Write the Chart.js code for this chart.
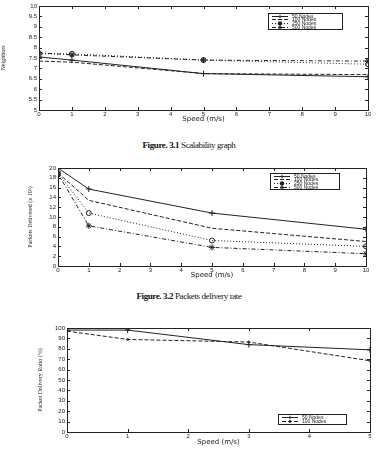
<!DOCTYPE html>
<html>
<head>
<meta charset="utf-8">
<title>Speed charts</title>
<script src="https://cdn.jsdelivr.net/npm/chart.js@4.4.0/dist/chart.umd.min.js"></script>
<style>
    body { margin: 0; width: 378px; height: 453px; background: #fff; position: relative; overflow: hidden; }
    .box { position: absolute; left: 0; width: 378px; }
    .caption { position: absolute; left: 0; width: 378px; text-align: center;
               font-family: 'Liberation Serif', serif; font-size: 9px; color: #111; letter-spacing: -0.4px; }
</style>
</head>
<body>
<div class="box" style="top:0;height:123px"><canvas id="chart1"></canvas></div>
<div class="caption" style="top:140px"><b>Figure. 3.1</b> Scalability graph</div>
<div class="box" style="top:160px;height:119px"><canvas id="chart2"></canvas></div>
<div class="caption" style="top:291px"><b>Figure. 3.2</b> Packets delivery rate</div>
<div class="box" style="top:320px;height:126px"><canvas id="chart3"></canvas></div>

<script>
// Figure 3.1 - neighbors vs speed
const speeds = [0, 1, 5, 10];
const neighborLabels = ['50 Nodes', '100 Nodes', '250 Nodes', '500 Nodes'];
const neighbors50 = [7.55, 7.4, 6.75, 6.6];
const neighbors100 = [7.35, 7.3, 6.75, 6.7];
const neighbors250 = [7.7, 7.7, 7.4, 7.2];
const neighbors500 = [7.75, 7.65, 7.4, 7.35];

// Figure 3.2 - packets delivered (x 10^3) vs speed
const delivered50 = [20, 15.7, 10.8, 7.5];
const delivered100 = [19, 13.4, 7.7, 5];
const delivered250 = [19, 10.8, 5.2, 4];
const delivered500 = [18.8, 8.2, 3.8, 2.5];

// third graph - packet delivery ratio (%)
const ratioSpeeds = [0, 1, 3, 5];
const ratioLabels = ['50 Nodes', '100 Nodes'];
const ratio50 = [98, 98, 84, 79];
const ratio100 = [97, 89, 86.5, 68.5];

const INK = '#222';
const axisFont = { family: 'Liberation Sans', size: 6, lineHeight: 1 };
const titleFont = { family: 'DejaVu Sans', size: 7, lineHeight: 1 };

const styles = [
    { borderDash: [], pointStyle: 'cross', pointRadius: 3 },
    { borderDash: [4, 2], pointStyle: 'circle', pointRadius: 0 },
    { borderDash: [1, 2], pointStyle: 'circle', pointRadius: 2.5 },
    { borderDash: [4, 2, 1, 2], pointStyle: 'star', pointRadius: 3 }
];

function toPoints(xs, ys) {
    return xs.map((x, i) => ({ x: x, y: ys[i] }));
}

function makeDataset(label, xs, ys, style) {
    return {
        label: label,
        data: toPoints(xs, ys),
        borderColor: INK,
        borderWidth: 1,
        borderDash: style.borderDash,
        pointStyle: style.pointStyle,
        pointRadius: style.pointRadius,
        pointBorderColor: INK,
        pointBorderWidth: 1,
        pointBackgroundColor: 'rgba(0,0,0,0)',
        fill: false,
        tension: 0
    };
}

// box around the plot with inward ticks on all four sides
const boxPlugin = {
    id: 'matlabBox',
    afterDatasetsDraw(chart) {
        const { ctx, chartArea: a, scales } = chart;
        const len = 3;
        ctx.save();
        ctx.strokeStyle = INK;
        ctx.lineWidth = 1;
        ctx.setLineDash([]);
        ctx.strokeRect(Math.round(a.left) + 0.5, Math.round(a.top) + 0.5,
            Math.round(a.right - a.left), Math.round(a.bottom - a.top));
        ctx.beginPath();
        scales.x.ticks.forEach(t => {
            const px = Math.round(scales.x.getPixelForValue(t.value)) + 0.5;
            ctx.moveTo(px, a.bottom); ctx.lineTo(px, a.bottom - len);
            ctx.moveTo(px, a.top); ctx.lineTo(px, a.top + len);
        });
        scales.y.ticks.forEach(t => {
            const py = Math.round(scales.y.getPixelForValue(t.value)) + 0.5;
            ctx.moveTo(a.left, py); ctx.lineTo(a.left + len, py);
            ctx.moveTo(a.right, py); ctx.lineTo(a.right - len, py);
        });
        ctx.stroke();
        ctx.restore();
    }
};

// small boxed legend in MATLAB style
const boxLegend = {
    id: 'boxLegend',
    afterDraw(chart, args, opts) {
        const { ctx, chartArea: a } = chart;
        const sets = chart.data.datasets;
        const w = opts.width, rowH = opts.rowHeight;
        const h = rowH * sets.length + 2;
        const x = a.right - opts.right - w;
        const y = opts.top != null ? a.top + opts.top : a.bottom - opts.bottom - h;
        ctx.save();
        ctx.fillStyle = '#fff';
        ctx.fillRect(x, y, w, h);
        ctx.strokeStyle = INK;
        ctx.lineWidth = 1;
        ctx.strokeRect(Math.round(x) + 0.5, Math.round(y) + 0.5, Math.round(w), Math.round(h));
        ctx.font = '5px "Liberation Sans"';
        ctx.textBaseline = 'middle';
        ctx.fillStyle = INK;
        sets.forEach((ds, i) => {
            const cy = Math.round(y + 1 + rowH * (i + 0.5)) + 0.5;
            ctx.setLineDash(ds.borderDash || []);
            ctx.beginPath();
            ctx.moveTo(x + 4, cy);
            ctx.lineTo(x + 20, cy);
            ctx.stroke();
            ctx.setLineDash([]);
            if (ds.pointRadius > 0) {
                Chart.helpers.drawPoint(ctx, {
                    pointStyle: ds.pointStyle, radius: Math.min(ds.pointRadius, 1.8),
                    borderWidth: 1, rotation: 0
                }, x + 12, cy);
            }
            ctx.fillText(ds.label, x + 24, cy);
        });
        ctx.restore();
    }
};

function makeChart(id, cfg) {
    return new Chart(document.getElementById(id), {
        type: 'line',
        data: { datasets: cfg.datasets },
        options: {
            responsive: true,
            maintainAspectRatio: false,
            animation: false,
            layout: { padding: cfg.padding },
            plugins: {
                legend: { display: false },
                tooltip: { enabled: false },
                boxLegend: cfg.legend
            },
            scales: {
                x: {
                    type: 'linear',
                    min: cfg.xMin, max: cfg.xMax,
                    ticks: { stepSize: 1, font: axisFont, color: INK, padding: 1, maxRotation: 0, autoSkip: false },
                    grid: { display: false, drawTicks: false },
                    border: { display: false },
                    title: { display: true, text: 'Speed (m/s)', font: titleFont, color: INK, padding: { top: 0, bottom: 0 } },
                    afterFit: s => { s.height = cfg.xHeight; }
                },
                y: {
                    min: cfg.yMin, max: cfg.yMax,
                    ticks: {
                        stepSize: cfg.yStep, font: axisFont, color: INK, padding: 2, autoSkip: false,
                        callback: v => String(Math.round(v * 10) / 10)
                    },
                    grid: { display: false, drawTicks: false },
                    border: { display: false },
                    title: { display: true, text: cfg.yTitle, font: { family: 'Liberation Sans Narrow', size: 6 }, color: INK, padding: 0 },
                    afterFit: s => { s.width = cfg.yWidth; }
                }
            }
        },
        plugins: [boxPlugin, boxLegend]
    });
}

makeChart('chart1', {
    datasets: [
        makeDataset(neighborLabels[0], speeds, neighbors50, styles[0]),
        makeDataset(neighborLabels[1], speeds, neighbors100, styles[1]),
        makeDataset(neighborLabels[2], speeds, neighbors250, styles[2]),
        makeDataset(neighborLabels[3], speeds, neighbors500, styles[3])
    ],
    padding: { top: 6, right: 10, left: 0, bottom: 0 },
    xMin: 0, xMax: 10, yMin: 5, yMax: 10, yStep: 0.5,
    yTitle: 'Neighbors', xHeight: 13, yWidth: 39,
    legend: { width: 74, rowHeight: 3.6, right: 26, top: 7 }
});

makeChart('chart2', {
    datasets: [
        makeDataset(neighborLabels[0], speeds, delivered50, styles[0]),
        makeDataset(neighborLabels[1], speeds, delivered100, styles[1]),
        makeDataset(neighborLabels[2], speeds, delivered250, styles[2]),
        makeDataset(neighborLabels[3], speeds, delivered500, styles[3])
    ],
    padding: { top: 8, right: 12, left: 27, bottom: 0 },
    xMin: 0, xMax: 10, yMin: 0, yMax: 20, yStep: 2,
    yTitle: 'Packets Delivered (x 10³)', xHeight: 13, yWidth: 31,
    legend: { width: 69, rowHeight: 3.6, right: 27, top: 5 }
});

makeChart('chart3', {
    datasets: [
        makeDataset(ratioLabels[0], ratioSpeeds, ratio50, styles[0]),
        makeDataset(ratioLabels[1], ratioSpeeds, ratio100, { borderDash: [4, 2], pointStyle: 'circle', pointRadius: 1 })
    ],
    padding: { top: 8, right: 8, left: 37, bottom: 0 },
    xMin: 0, xMax: 5, yMin: 0, yMax: 100, yStep: 10,
    yTitle: 'Packet Delivery Ratio (%)', xHeight: 14, yWidth: 30,
    legend: { width: 68, rowHeight: 4, right: 24, bottom: 8 }
});
</script>
</body>
</html>
